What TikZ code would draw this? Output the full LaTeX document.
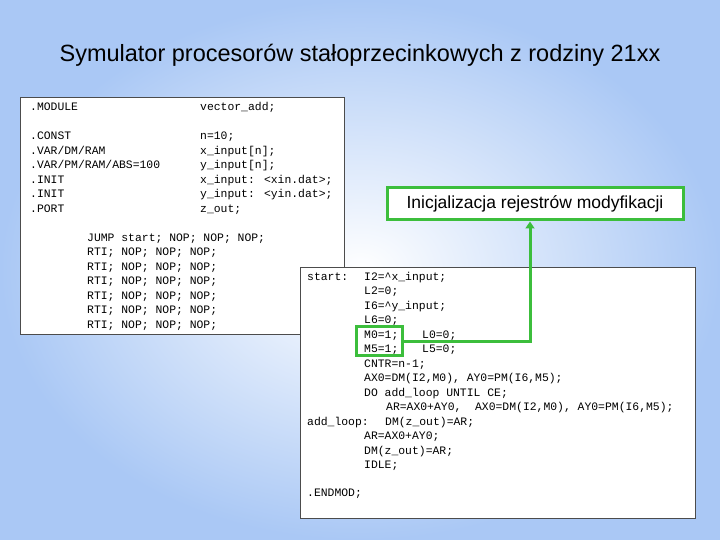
\documentclass[tikz,border=0pt]{standalone}
\usepackage{fontspec}
\setmainfont{Liberation Sans}
\newfontfamily\cour{Liberation Mono}
\usetikzlibrary{arrows.meta}
\definecolor{bgblue}{RGB}{170,200,245}
\definecolor{gr}{RGB}{60,190,60}
\tikzset{code/.style={anchor=base west,inner sep=0pt,font=\cour\fontsize{11.4}{13}\selectfont},
 codebox/.style={draw=black!70,line width=0.8pt,fill=white}}
\begin{document}
\begin{tikzpicture}[x=1pt,y=-1pt]
\useasboundingbox (0,0) rectangle (720,540);
\shade[inner color=white,outer color=bgblue] (0,0) rectangle (720,540);
\node[font=\fontsize{23.5}{28}\selectfont] (title) at (360,55) {Symulator procesorów stałoprzecinkowych z rodziny 21xx};
\node[codebox,minimum width=324,minimum height=237,anchor=north west] (lbox) at (20,97) {};
\node[code] (m1) at (30,111) {.MODULE};
\node[code] (m2) at (200,111) {vector\_add;};
\node[code] (la1) at (30,139.6) {.CONST};
\node[code] (la2) at (30,154.2) {.VAR/DM/RAM};
\node[code] (la3) at (30,168.8) {.VAR/PM/RAM/ABS=100};
\node[code] (la4) at (30,183.4) {.INIT};
\node[code] (la5) at (30,198) {.INIT};
\node[code] (la6) at (30,212.6) {.PORT};
\node[code] (lb1) at (200,139.6) {n=10;};
\node[code] (lb2) at (200,154.2) {x\_input[n];};
\node[code] (lb3) at (200,168.8) {y\_input[n];};
\node[code] (lb4) at (200,183.4) {x\_input: <xin.dat>;};
\node[code] (lb5) at (200,198) {y\_input: <yin.dat>;};
\node[code] (lb6) at (200,212.6) {z\_out;};
\node[code] (j) at (87,241) {JUMP start; NOP; NOP; NOP;};
\foreach \i in {1,...,6} \node[code] (r\i) at (87,241+14.5*\i) {RTI; NOP; NOP; NOP;};
\node[codebox,minimum width=395,minimum height=251,anchor=north west] (rbox) at (300,267) {};
\node[code] (s0) at (307,280) {start:};
\foreach \t [count=\i from 0] in {I2=\^{}x\_input;,L2=0;,I6=\^{}y\_input;,L6=0;,M0=1;,M5=1;,CNTR=n-1;,{AX0=DM(I2,M0), AY0=PM(I6,M5);},DO add\_loop UNTIL CE;}
  \node[code] (c\i) at (364,280+14.5*\i) {\t};
\node[code] (l0) at (422,338) {L0=0;};
\node[code] (l5) at (422,352.5) {L5=0;};
\node[code] (c9) at (386,410.5) {AR=AX0+AY0,\ \ AX0=DM(I2,M0), AY0=PM(I6,M5);};
\node[code] (c10) at (307,425) {add\_loop:};
\node[code] (c10b) at (385,425) {DM(z\_out)=AR;};
\foreach \t [count=\i from 1] in {AR=AX0+AY0;,DM(z\_out)=AR;,IDLE;}
  \node[code] (d\i) at (364,425+14.5*\i) {\t};
\node[code] (end) at (307,496) {.ENDMOD;};
\node[draw=gr,line width=3pt,fill=white,minimum width=296,minimum height=32,font=\fontsize{17.5}{20}\selectfont] (lab) at (535,204) {Inicjalizacja rejestrów modyfikacji};
\node[draw=gr,line width=3pt,minimum width=46,minimum height=29] (hb) at (379,341) {};
\coordinate (corner) at (530,341);
\draw[gr,line width=3pt,-{Triangle[length=7pt,width=9pt]}] (hb.east) -- (corner) -- (lab.south -| corner);
\end{tikzpicture}
\end{document}
